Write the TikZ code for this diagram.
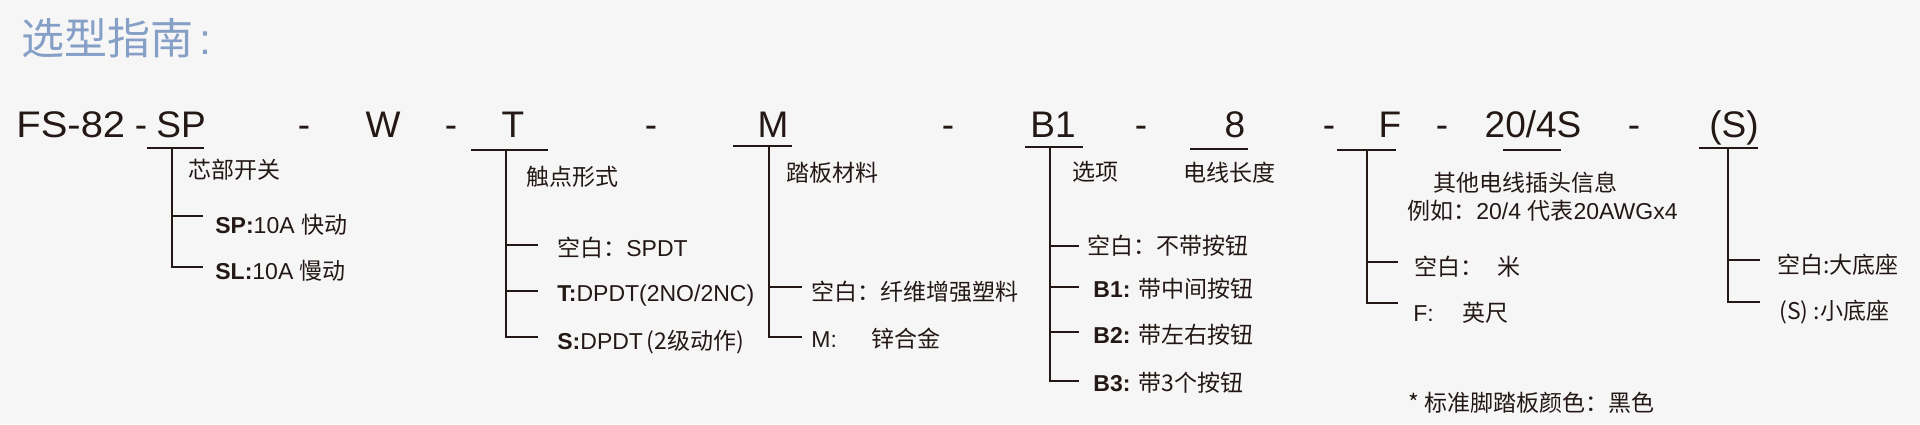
\documentclass[tikz,border=0pt]{standalone}
\usepackage{fontspec}
\setmainfont{Liberation Sans}
\newfontfamily\cjk{Noto Sans CJK SC}
\newcommand\zh[1]{{\cjk #1}}
\definecolor{ink}{HTML}{231815}
\definecolor{bgc}{HTML}{F6F6F6}
\definecolor{ttl}{HTML}{859FC6}
\begin{document}
\begin{tikzpicture}[x=0.5pt,y=-0.5pt,
  code/.style={font=\fontsize{18.5}{20}\selectfont, text=ink, inner sep=0pt, anchor=base},
  lbl/.style={font=\fontsize{11.5}{13}\selectfont, text=ink, inner sep=0pt, anchor=west},
  ln/.style={draw=ink, line width=1pt}]
\fill[bgc] (0,0) rectangle (1920,424);
\useasboundingbox (0,0) rectangle (1920,424);

% title
\node[anchor=west, inner sep=0pt, text=ttl, font=\fontsize{21.5}{24}\cjk\selectfont] (title) at (21,38) {选型指南\hspace{3pt}\textrm{:}};

% code line
\node[code, anchor=base west] (fs) at (16,137) {\scalebox{1.08}[1]{FS-82}};
\node[code] (d1) at (141,137) {-};
\node[code] (sp) at (181,137) {SP};
\node[code] (d2) at (304,137) {-};
\node[code] (w) at (383,137) {W};
\node[code] (d3) at (451,137) {-};
\node[code] (t) at (513,137) {T};
\node[code] (d4) at (651,137) {-};
\node[code] (m) at (773,137) {M};
\node[code] (d5) at (948,137) {-};
\node[code] (b) at (1053,137) {B1};
\node[code] (d6) at (1141,137) {-};
\node[code] (e) at (1235,137) {8};
\node[code] (d7) at (1329,137) {-};
\node[code] (f) at (1390,137) {F};
\node[code] (d8) at (1442,137) {-};
\node[code] (p) at (1533,137) {20/4S};
\node[code] (d9) at (1634,137) {-};
\node[code] (s) at (1734,137) {(S)};

% ---- SP tree
\draw[ln] (147,148) coordinate (spL) -- (204,148) coordinate (spR);
\coordinate (spT) at (172,148);
\node[lbl] (spH) at (188,170) {\zh{芯部开关}};
\node[lbl] (sp1) at (215,225) {\textbf{SP:}10A \zh{快动}};
\node[lbl] (sp2) at (215,271) {\textbf{SL:}10A \zh{慢动}};
\coordinate (sp1e) at (203,216);
\coordinate (sp2e) at (203,267);
\draw[ln] (spT) |- (sp2e);
\draw[ln] (spT |- sp1e) -- (sp1e);

% ---- T tree
\draw[ln] (471,150) coordinate (tL) -- (548,150) coordinate (tR);
\coordinate (tT) at (506,150);
\node[lbl] (tH) at (526,177) {\zh{触点形式}};
\node[lbl] (t1) at (557,248) {\zh{空白：}SPDT};
\node[lbl] (t2) at (557,296) {\textbf{T:}DPDT(2NO/2NC)};
\node[lbl] (t3) at (557,342) {\textbf{S:}DPDT\,\zh{(2级动作)}};
\coordinate (t1e) at (538,245);
\coordinate (t2e) at (538,291);
\coordinate (t3e) at (538,337);
\draw[ln] (tT) |- (t3e);
\draw[ln] (tT |- t1e) -- (t1e);
\draw[ln] (tT |- t2e) -- (t2e);

% ---- M tree
\draw[ln] (733,146) coordinate (mL) -- (792,146) coordinate (mR);
\coordinate (mT) at (769,146);
\node[lbl] (mH) at (786,173) {\zh{踏板材料}};
\node[lbl] (m1) at (811,292) {\zh{空白：纤维增强塑料}};
\node[lbl] (m2) at (811,339) {\makebox[30pt][l]{M:}\zh{锌合金}};
\coordinate (m1e) at (802,287);
\coordinate (m2e) at (802,337);
\draw[ln] (mT) |- (m2e);
\draw[ln] (mT |- m1e) -- (m1e);

% ---- B1 tree
\draw[ln] (1025,147) coordinate (bL) -- (1083,147) coordinate (bR);
\coordinate (bT) at (1050,147);
\node[lbl] (bH) at (1072,172) {\zh{选项}};
\node[lbl] (b1) at (1087,246) {\zh{空白：不带按钮}};
\node[lbl] (b2) at (1093,289) {\textbf{B1:} \zh{带中间按钮}};
\node[lbl] (b3) at (1093,335) {\textbf{B2:} \zh{带左右按钮}};
\node[lbl] (b4) at (1093,383) {\textbf{B3:} \zh{带3个按钮}};
\coordinate (b1e) at (1079,246);
\coordinate (b2e) at (1079,287);
\coordinate (b3e) at (1079,332);
\coordinate (b4e) at (1079,381);
\draw[ln] (bT) |- (b4e);
\draw[ln] (bT |- b1e) -- (b1e);
\draw[ln] (bT |- b2e) -- (b2e);
\draw[ln] (bT |- b3e) -- (b3e);

% ---- 8
\draw[ln] (1190,149) coordinate (eL) -- (1248,149) coordinate (eR);
\node[lbl] (eH) at (1183,173) {\zh{电线长度}};

% ---- F tree
\draw[ln] (1337,150) coordinate (fL) -- (1396,150) coordinate (fR);
\coordinate (fT) at (1367,150);
\node[lbl] (f1) at (1414,267) {\makebox[41.5pt][l]{\zh{空白：}}\zh{米}};
\node[lbl] (f2) at (1413,313) {\makebox[24.5pt][l]{F:}\zh{英尺}};
\coordinate (f1e) at (1398,262);
\coordinate (f2e) at (1398,303);
\draw[ln] (fT) |- (f2e);
\draw[ln] (fT |- f1e) -- (f1e);

% ---- 20/4S
\draw[ln] (1503,150) coordinate (pL) -- (1561,150) coordinate (pR);
\node[lbl] (pH) at (1433,183) {\zh{其他电线插头信息}};
\node[lbl] (pH2) at (1407,211) {\zh{例如：}20/4 \zh{代表}20AWGx4};

% ---- (S) tree
\draw[ln] (1699,148) coordinate (sL) -- (1758,148) coordinate (sR);
\coordinate (sT) at (1728,148);
\node[lbl] (s1) at (1777,265) {\zh{空白:大底座}};
\node[lbl] (s2) at (1779,312) {\zh{(S) :小底座}};
\coordinate (s1e) at (1760,260);
\coordinate (s2e) at (1760,302);
\draw[ln] (sT) |- (s2e);
\draw[ln] (sT |- s1e) -- (s1e);

% footnote
\node[lbl] (note) at (1408,403) {\zh{* 标准脚踏板颜色：黑色}};
\end{tikzpicture}
\end{document}
